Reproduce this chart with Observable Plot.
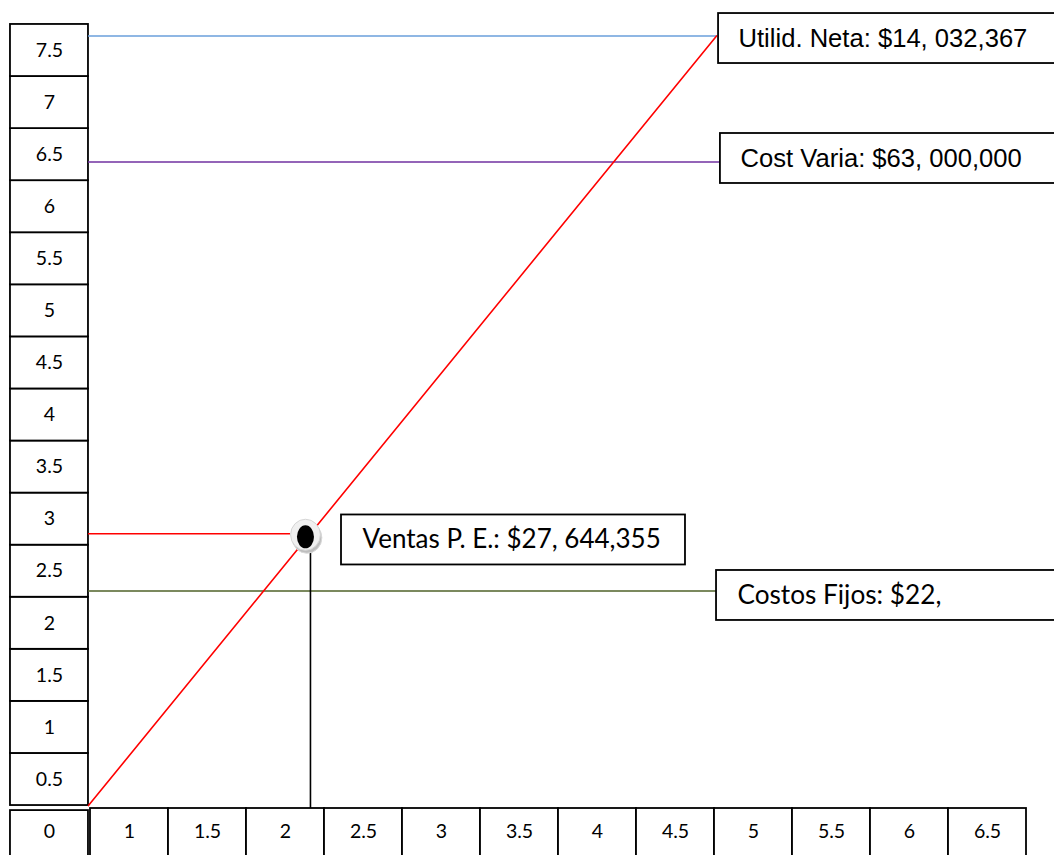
<!DOCTYPE html>
<html><head><meta charset="utf-8">
<script src="https://cdn.jsdelivr.net/npm/d3@7"></script>
<script src="https://cdn.jsdelivr.net/npm/@observablehq/plot@0.6"></script>
<style>body{margin:0;background:#fff} svg{display:block;overflow:hidden}</style>
</head><body><div id="chart"></div>
<script>
// ---- data ----
const yTicks = [0.5, 1, 1.5, 2, 2.5, 3, 3.5, 4, 4.5, 5, 5.5, 6, 6.5, 7, 7.5];
const xTicks = [1, 1.5, 2, 2.5, 3, 3.5, 4, 4.5, 5, 5.5, 6, 6.5];
const originTick = "0";
const seriesNames = ["Utilid. Neta", "Cost Varia", "Ventas P. E.", "Costos Fijos"];
const seriesLabels = ["Utilid. Neta: $14, 032,367", "Cost Varia: $63, 000,000", "Ventas P. E.: $27, 644,355", "Costos Fijos: $22,"];
const seriesLevels = [7.64, 6.43, 2.86, 2.31];
const salesX = [0.737, 4.763];
const salesY = [0.25, 7.64];
const breakEvenX = 2.128;
const breakEvenY = 2.85;

// ---- layout / styles ----
const colors = ["#6A9FDB", "#7030A0", "#FF0000", "#4F6228"];
const axisX0 = 0.737;           // right edge of y tick column
const colX1 = 0.237;            // left edge of y tick column
const xRowTop = 0.2215;         // top of x tick row
const xRowBottom = -0.35;
const lineEnds = [4.763, 4.788, 2.032, 4.763];
const boxes = [
  {x1: 4.776, x2: 7.3, y: 7.615, tx: 4.904, font: "Liberation Sans, Arial, sans-serif", size: 25.6},
  {x1: 4.788, x2: 7.3, y: 6.463, tx: 4.917, font: "Liberation Sans, Arial, sans-serif", size: 25.6},
  {x1: 2.359, x2: 4.564, y: 2.800, tx: 2.494, font: "Lato, sans-serif", size: 26},
  {x1: 4.763, x2: 7.3, y: 2.267, tx: 4.897, font: "Lato, sans-serif", size: 26.2}
];
const halfBox = 0.24;
const tickFont = "Lato, sans-serif";
const tickSize = 19.5;

const yBoxes = yTicks.map(v => ({v, x1: colX1, x2: axisX0, y1: v - 0.25, y2: v + 0.25}));
const xBoxes = xTicks.map(v => ({v, x1: v - 0.25, x2: v + 0.25, y1: xRowBottom, y2: xRowTop}));
const hLines = seriesNames.map((s, i) => ({s, i, x1: axisX0, x2: lineEnds[i], y: seriesLevels[i]}));
const labelBoxes = seriesLabels.map((t, i) => ({t, ...boxes[i]}));
const sales = salesX.map((x, i) => ({x, y: salesY[i]}));
const be = [{x: breakEvenX, y: breakEvenY}];

const marks = [
  // y tick boxes
  Plot.rect(yBoxes, {x1: "x1", x2: "x2", y1: "y1", y2: "y2", fill: "white", stroke: "black", strokeWidth: 1.8}),
  Plot.text(yBoxes, {x: d => (d.x1 + d.x2) / 2, y: "v", text: d => String(d.v), fontSize: tickSize, fontFamily: tickFont, fill: "black"}),
  // x tick boxes
  Plot.rect(xBoxes, {x1: "x1", x2: "x2", y1: "y1", y2: "y2", fill: "white", stroke: "black", strokeWidth: 1.8}),
  Plot.text(xBoxes, {x: "v", y: 0, text: d => String(d.v), fontSize: tickSize, fontFamily: tickFont, fill: "black"}),
  // origin box
  Plot.rect([originTick], {x1: colX1, x2: axisX0, y1: xRowBottom, y2: xRowTop - 0.02, fill: "white", stroke: "black", strokeWidth: 1.8}),
  Plot.text([originTick], {x: (colX1 + axisX0) / 2, y: 0, text: d => d, fontSize: tickSize, fontFamily: tickFont, fill: "black"}),
  // horizontal level lines
  ...hLines.map(d => Plot.ruleY([d], {y: "y", x1: "x1", x2: "x2", stroke: colors[d.i], strokeWidth: 1.5})),
  // sales diagonal
  Plot.line(sales, {x: "x", y: "y", stroke: "#FF0000", strokeWidth: 1.6}),
  // vertical drop from break-even
  Plot.ruleX([breakEvenX + 0.032], {x: d => d, y1: xRowTop, y2: breakEvenY - 0.1, stroke: "black", strokeWidth: 1.6}),
  // break-even marker (shadow, ring, black centre)
  Plot.dot(be, {x: "x", y: "y", r: 15.5, dx: 1.5, dy: 3, fill: "#bdbdbd", stroke: "#d8d8d8", strokeWidth: 1}),
  Plot.dot(be, {x: "x", y: "y", r: 15.5, fill: "#f0f0f0", stroke: "#d4d4d4", strokeWidth: 1}),
  Plot.dot(be, {x: "x", y: "y", r: 11.5, dy: 2, fill: "black"}),
  // label boxes
  Plot.rect(labelBoxes, {x1: "x1", x2: "x2", y1: d => d.y - halfBox, y2: d => d.y + halfBox, fill: "white", stroke: "black", strokeWidth: 1.8}),
  ...labelBoxes.map(d => Plot.text([d], {x: "tx", y: "y", text: "t", textAnchor: "start", fontSize: d.size, fontFamily: d.font, fill: "black"}))
];

const chart = Plot.plot({
  width: 1054,
  height: 855,
  margin: 0,
  x: {domain: [1, 6.5], range: [129, 987], axis: null},
  y: {domain: [0.5, 7.5], range: [779, 50], axis: null},
  style: {background: "white"},
  marks
});

// shape the break-even centre as an ellipse
d3.select(chart).selectAll("circle").each(function() {
  const c = d3.select(this);
  const r = +c.attr("r");
  const sx = r > 13 ? 0.96 : 0.74;
  let cx = +c.attr("cx") || 0, cy = +c.attr("cy") || 0;
  const t = c.attr("transform");
  if (t) { const m = /translate\(([-\d.]+)[ ,]+([-\d.]+)\)/.exec(t); if (m) { cx += +m[1]; cy += +m[2]; } }
  c.attr("cx", null).attr("cy", null).attr("transform", `translate(${cx},${cy}) scale(${sx},1)`);
});

document.getElementById("chart").appendChild(chart);
</script>
</body></html>
